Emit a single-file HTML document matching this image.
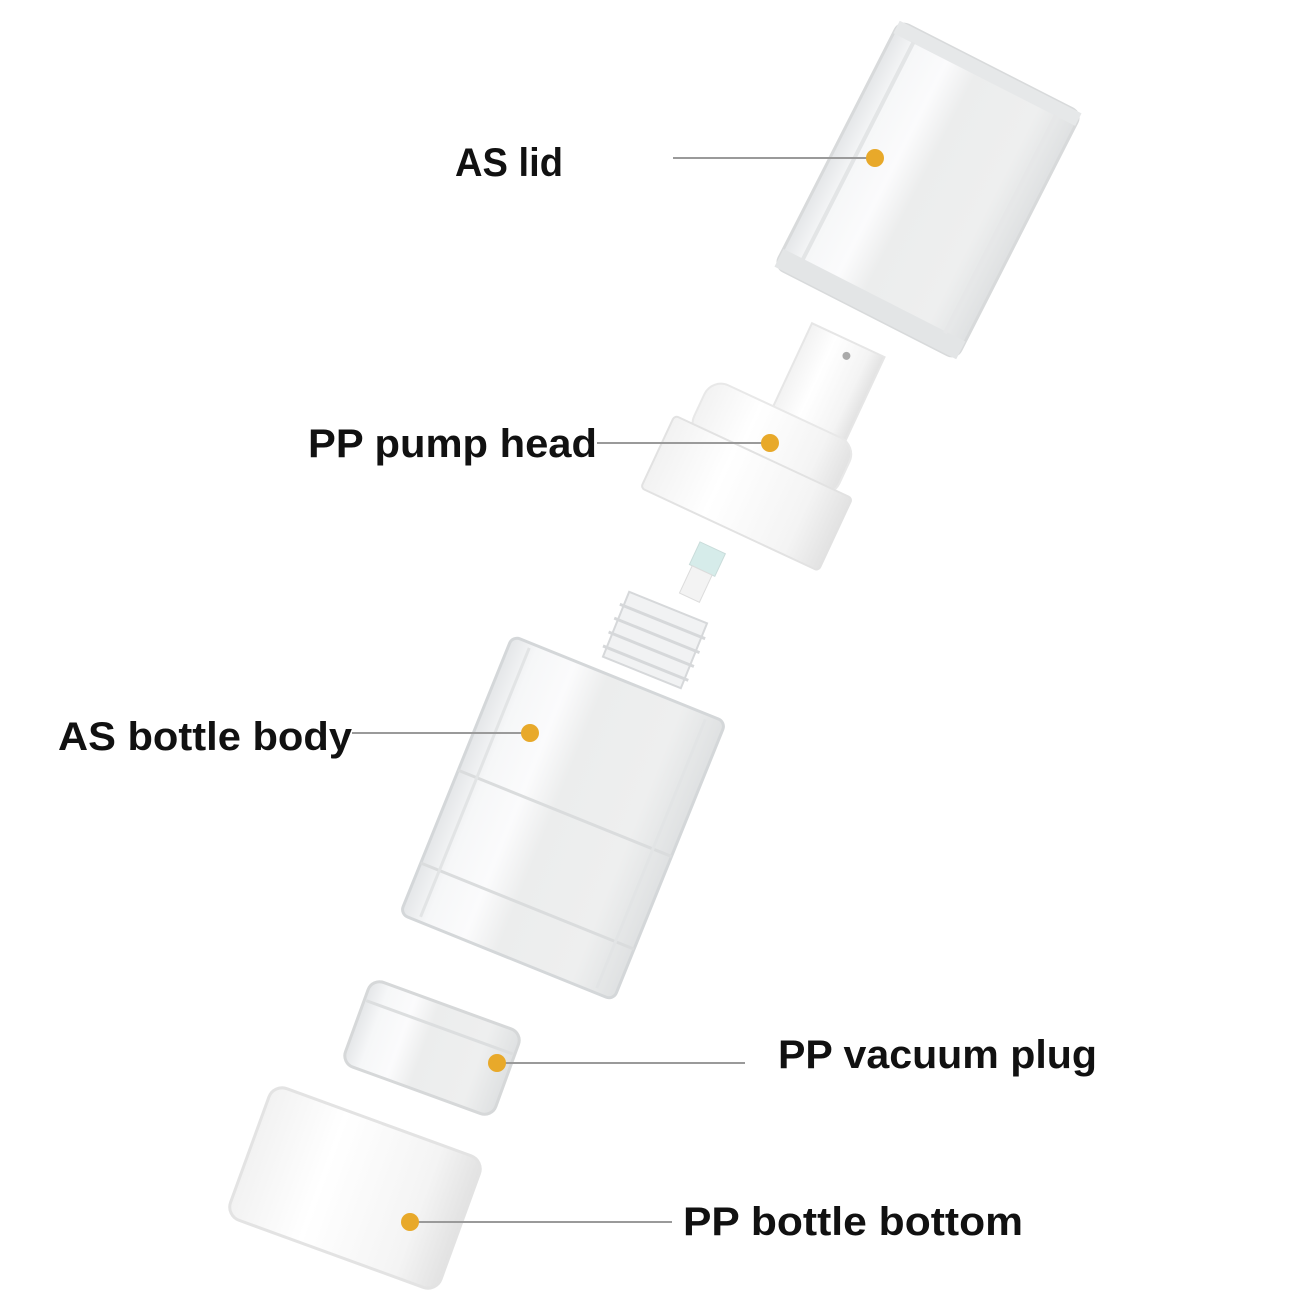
<!DOCTYPE html>
<html><head><meta charset="utf-8"><style>
html,body{margin:0;padding:0;background:#fff;}
svg{display:block}
text{font-family:"Liberation Sans",sans-serif;font-weight:bold;font-size:40px;fill:#111}
</style></head><body>
<svg width="1300" height="1300" viewBox="0 0 1300 1300" xmlns="http://www.w3.org/2000/svg">
<defs>
<linearGradient id="clr" x1="0" x2="1" y1="0" y2="0">
<stop offset="0" stop-color="#e4e6e8"/><stop offset="0.12" stop-color="#f6f7f8"/>
<stop offset="0.3" stop-color="#fbfbfc"/><stop offset="0.45" stop-color="#eceded"/>
<stop offset="0.8" stop-color="#eeefef"/><stop offset="1" stop-color="#dfe1e2"/></linearGradient>
<linearGradient id="wht" x1="0" x2="1" y1="0" y2="0">
<stop offset="0" stop-color="#f2f2f2"/><stop offset="0.35" stop-color="#ffffff"/>
<stop offset="0.8" stop-color="#f4f4f4"/><stop offset="1" stop-color="#e2e2e2"/></linearGradient>
</defs>

<!-- AS lid -->
<g transform="translate(928,190) rotate(27)">
<rect x="-102" y="-138" width="204" height="276" rx="10" fill="url(#clr)" stroke="#d8dadb" stroke-width="3"/>
<rect x="-102" y="-138" width="204" height="14" fill="#e6e8e9"/>
<rect x="-102" y="118" width="204" height="20" fill="#e3e5e6"/>
<line x1="-80" y1="-125" x2="-80" y2="120" stroke="#e3e5e6" stroke-width="4"/>
<line x1="80" y1="-125" x2="80" y2="120" stroke="#e6e7e8" stroke-width="4"/>
</g>

<!-- pump head stem -->
<g transform="translate(825,390) rotate(25)">
<rect x="-40" y="-55" width="80" height="110" fill="url(#wht)" stroke="#e6e6e6" stroke-width="2"/>
<circle cx="5" cy="-40" r="4" fill="#aaa"/>
</g>
<!-- pump nozzle tube -->
<g transform="translate(700,575) rotate(25)">
<rect x="-14" y="-30" width="28" height="25" fill="#d6ecea" stroke="#c9dcda"/>
<rect x="-11" y="-5" width="22" height="30" fill="#f3f3f3" stroke="#dcdcdc"/>
</g>
<!-- pump cap -->
<g transform="translate(755,475) rotate(25)">
<rect x="-80" y="-70" width="160" height="60" rx="18" fill="url(#wht)" stroke="#e8e8e8" stroke-width="2"/>
<rect x="-98" y="-20" width="196" height="80" rx="4" fill="url(#wht)" stroke="#e2e2e2" stroke-width="2"/>
</g>

<!-- bottle neck threads -->
<g transform="translate(655,640) rotate(22)">
<rect x="-42" y="-35" width="84" height="70" fill="#f1f2f3" stroke="#d6d8da" stroke-width="2"/>
<line x1="-46" y1="-20" x2="46" y2="-20" stroke="#d6d8da" stroke-width="3"/>
<line x1="-46" y1="-5" x2="46" y2="-5" stroke="#d6d8da" stroke-width="3"/>
<line x1="-46" y1="10" x2="46" y2="10" stroke="#d6d8da" stroke-width="3"/>
<line x1="-46" y1="25" x2="46" y2="25" stroke="#d6d8da" stroke-width="3"/>
</g>
<!-- AS bottle body -->
<g transform="translate(563,818) rotate(22)">
<rect x="-115" y="-150" width="230" height="300" rx="8" fill="url(#clr)" stroke="#d4d7d9" stroke-width="3"/>
<line x1="-115" y1="-5" x2="115" y2="-5" stroke="#dadcdd" stroke-width="3"/>
<line x1="-115" y1="95" x2="115" y2="95" stroke="#dadcdd" stroke-width="3"/>
<line x1="-95" y1="-145" x2="-95" y2="145" stroke="#e2e4e5" stroke-width="3"/>
<line x1="95" y1="-145" x2="95" y2="145" stroke="#e2e4e5" stroke-width="3"/>
</g>

<!-- PP vacuum plug -->
<g transform="translate(432,1048) rotate(20)">
<rect x="-80" y="-45" width="160" height="90" rx="12" fill="url(#clr)" stroke="#d6d8d9" stroke-width="3"/>
<line x1="-78" y1="-22" x2="78" y2="-22" stroke="#dcdedf" stroke-width="3"/>
</g>

<!-- PP bottle bottom -->
<g transform="translate(355,1188) rotate(20)">
<rect x="-112" y="-70" width="224" height="140" rx="14" fill="url(#wht)" stroke="#e3e3e3" stroke-width="3"/>
</g>

<!-- leader lines -->
<g stroke="#9a9a9a" stroke-width="2">
<line x1="673" y1="158" x2="875" y2="158"/>
<line x1="597" y1="443" x2="770" y2="443"/>
<line x1="352" y1="733" x2="530" y2="733"/>
<line x1="497" y1="1063" x2="745" y2="1063"/>
<line x1="410" y1="1222" x2="672" y2="1222"/>
</g>
<g fill="#e8a92a">
<circle cx="875" cy="158" r="9"/>
<circle cx="770" cy="443" r="9"/>
<circle cx="530" cy="733" r="9"/>
<circle cx="497" cy="1063" r="9"/>
<circle cx="410" cy="1222" r="9"/>
</g>

<text x="455" y="176" textLength="108" lengthAdjust="spacingAndGlyphs">AS lid</text>
<text x="308" y="457" textLength="289" lengthAdjust="spacingAndGlyphs">PP pump head</text>
<text x="58" y="750" textLength="294" lengthAdjust="spacingAndGlyphs">AS bottle body</text>
<text x="778" y="1068" textLength="319" lengthAdjust="spacingAndGlyphs">PP vacuum plug</text>
<text x="683" y="1235" textLength="340" lengthAdjust="spacingAndGlyphs">PP bottle bottom</text>
</svg>
</body></html>
